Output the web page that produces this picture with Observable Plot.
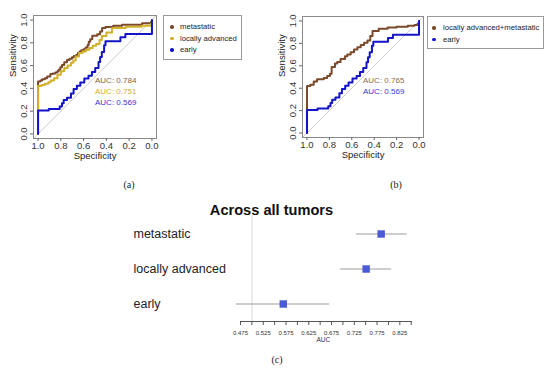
<!DOCTYPE html>
<html><head><meta charset="utf-8">
<script src="https://cdn.jsdelivr.net/npm/d3@7"></script>
<script src="https://cdn.jsdelivr.net/npm/@observablehq/plot@0.6"></script>
<style>
body{margin:0;background:#fff;}
#root{position:relative;width:550px;height:370px;overflow:hidden;font-family:"Liberation Sans",Arial,sans-serif;background:#fff;}
#root svg{position:absolute;background:none;}
.legend{position:absolute;border:1px solid #9a9a9a;box-sizing:border-box;font-size:7.7px;color:#222;}
.legend .item{position:absolute;white-space:nowrap;line-height:10px;height:10px;}
.legend .dot{position:absolute;width:3.4px;height:3.4px;border-radius:50%;}
.plab{position:absolute;font-family:"Liberation Serif",serif;font-size:10px;color:#222;width:30px;text-align:center;line-height:12px;}
.title{position:absolute;font-weight:bold;font-size:14.6px;color:#111;width:220px;text-align:center;line-height:18px;}
</style></head><body><div id="root"></div>
<script>
// ---------- data ----------
const rocTicks = [0, 0.2, 0.4, 0.6, 0.8, 1.0];

// Panel (a)
const namesA = ["metastatic", "locally advanced", "early"];
const aucA = [0.784, 0.751, 0.569];
const metSpec = [1,1,.98,.964,.94,.92,.892,.87,.848,.83,.819,.805,.79,.77,.746,.725,.702,.685,.665,.65,.635,.62,.60,.582,.565,.555,.542,.524,.48,.455,.437,.408,.34,.262,.087,.01,0];
const metSens = [0,.46,.47,.48,.49,.505,.527,.53,.539,.55,.563,.585,.606,.63,.65,.66,.673,.685,.694,.71,.723,.735,.744,.76,.782,.81,.831,.863,.875,.90,.93,.94,.95,.959,.971,.98,1];
const locSpec = [1,1,.97,.94,.91,.89,.86,.83,.80,.77,.74,.71,.69,.67,.64,.61,.58,.55,.52,.49,.46,.44,.40,.35,.23,.09,.01,0];
const locSens = [0,.42,.43,.44,.455,.47,.49,.52,.55,.58,.60,.625,.645,.68,.71,.725,.74,.755,.775,.79,.825,.86,.89,.93,.942,.95,.965,1];
const earlySpec = [1,1,.906,.81,.79,.775,.746,.711,.688,.659,.629,.594,.557,.527,.498,.469,.455,.44,.42,.408,.277,.233,0];
const earlySens = [0,.205,.219,.24,.269,.298,.318,.356,.394,.423,.452,.487,.51,.545,.58,.632,.676,.72,.778,.814,.849,.878,1];

// Panel (b)
const namesB = ["locally advanced+metastatic", "early"];
const aucB = [0.765, 0.569];
const combSpec = [1,1,.97,.94,.91,.85,.82,.795,.78,.75,.73,.70,.66,.64,.61,.58,.55,.52,.49,.46,.435,.415,.36,.28,.20,.10,.04,.01,0];
const combSens = [0,.42,.43,.46,.48,.49,.51,.53,.59,.62,.635,.66,.685,.70,.72,.745,.765,.785,.805,.825,.865,.91,.93,.942,.948,.957,.965,.975,1];

// Panel (c)
const forestCats = ["metastatic", "locally advanced", "early"];
const forestAuc = [0.784, 0.751, 0.569];
const forestLo = [0.730, 0.695, 0.466];
const forestHi = [0.841, 0.807, 0.671];
const forestAllTicks = [0.475,0.5,0.525,0.55,0.575,0.6,0.625,0.65,0.675,0.7,0.725,0.75,0.775,0.8,0.825,0.85];
const forestLabelTicks = [0.475,0.525,0.575,0.625,0.675,0.725,0.775,0.825];

// ---------- drawing ----------
const root = document.getElementById("root");
const BROWN = "#7b4a2a", GOLD = "#d3b02a", BLUE = "#1414c8";

function rocPlot(curves, size, top) {
  const xd = [1.04, -0.04], yd = [-0.04, 1.04];
  const W = 160, H = 166;
  return Plot.plot({
    width: W, height: H,
    marginLeft: 33, marginRight: W - 33 - size, marginTop: top, marginBottom: H - top - size,
    style: {fontFamily: "Liberation Sans, Arial, sans-serif", fontSize: "9.5px", color: "#222", background: "none"},
    x: {domain: xd, label: null},
    y: {domain: yd, label: null},
    marks: [
      Plot.link([0], {x1: xd[0], y1: yd[0], x2: xd[1], y2: yd[1], stroke: "#cfcfcf", strokeWidth: 1}),
      ...curves.map(c => Plot.line(c.spec.map((s, i) => ({spec: s, sens: c.sens[i]})),
        {x: "spec", y: "sens", stroke: c.color, strokeWidth: 2, curve: "step-after"})),
      ...curves.map((c, i) => Plot.text([c.auc], {x: 0.5, y: 0.5 - 0.1 * i,
        text: d => "AUC: " + d3.format(".3f")(d), fill: c.textColor,
        textAnchor: "start", lineAnchor: "top", fontSize: 8})),
      Plot.frame({stroke: "#8a8a8a"}),
      Plot.axisX({ticks: rocTicks, tickSize: 3, tickPadding: 0.5, tickFormat: ".1f", label: null, stroke: "#666", fill: "#333"}),
      Plot.axisY({ticks: rocTicks, tickSize: 3, tickPadding: 4, tickRotate: -90, tickFormat: ".1f", label: null, stroke: "#666", fill: "#333"}),
      Plot.text(["Specificity"], {frameAnchor: "bottom", dy: 20, text: d => d, fill: "#222"}),
      Plot.text(["Sensitivity"], {frameAnchor: "left", dx: -21, rotate: -90, text: d => d, fill: "#222"})
    ]
  });
}

const svgA = rocPlot([
  {spec: metSpec, sens: metSens, color: BROWN, textColor: "#86603f", auc: aucA[0]},
  {spec: locSpec, sens: locSens, color: GOLD, textColor: "#d2ac30", auc: aucA[1]},
  {spec: earlySpec, sens: earlySens, color: BLUE, textColor: "#3535d0", auc: aucA[2]}
], 123, 15);
svgA.style.left = "0px"; svgA.style.top = "0px";
root.appendChild(svgA);

const svgB = rocPlot([
  {spec: combSpec, sens: combSens, color: BROWN, textColor: "#8e6a50", auc: aucB[0]},
  {spec: earlySpec, sens: earlySens, color: BLUE, textColor: "#3a3ad2", auc: aucB[1]}
], 121, 16);
svgB.style.left = "269px"; svgB.style.top = "0px";
root.appendChild(svgB);

// Legends (HTML)
function legend(names, colors, left, top, w, h, dotX, textX) {
  const div = document.createElement("div");
  div.className = "legend";
  Object.assign(div.style, {left: left + "px", top: top + "px", width: w + "px", height: h + "px"});
  names.forEach((n, i) => {
    const cy = 11 + i * 11.5;
    const dot = document.createElement("div");
    dot.className = "dot";
    Object.assign(dot.style, {left: (dotX - 1.7) + "px", top: (cy - 1.7) + "px", background: colors[i]});
    const t = document.createElement("div");
    t.className = "item";
    Object.assign(t.style, {left: textX + "px", top: (cy - 5) + "px"});
    t.textContent = n;
    div.appendChild(dot); div.appendChild(t);
  });
  root.appendChild(div);
}
legend(namesA, [BROWN, GOLD, BLUE], 163, 15, 79, 45, 8, 16);
legend(namesB, [BROWN, BLUE], 427, 16, 117, 33, 6, 15);

// Panel (c)
const forest = forestCats.map((c, i) => ({cat: c, auc: forestAuc[i], lo: forestLo[i], hi: forestHi[i]}));
const svgC = Plot.plot({
  width: 300, height: 145,
  marginLeft: 120, marginRight: 9.3, marginTop: 10.4, marginBottom: 29,
  style: {fontFamily: "Liberation Sans, Arial, sans-serif", fontSize: "6px", color: "#333", background: "none"},
  x: {domain: [0.475, 0.85], label: null},
  y: {domain: forestCats, type: "band", padding: 0, label: null, axis: null},
  marks: [
    Plot.ruleX([0.5], {stroke: "#dcdcdc", strokeWidth: 1}),
    Plot.ruleY(forest, {y: "cat", x1: "lo", x2: "hi", stroke: "#9c9c9c", strokeWidth: 1.2}),
    Plot.dot(forest, {x: "auc", y: "cat", symbol: "square", r: 4.2, fill: "#4b5bd6"}),
    Plot.frame({anchor: "bottom", stroke: "#555"}),
    Plot.axisX({ticks: forestAllTicks, tickSize: 4, tickFormat: () => "", label: null, stroke: "#555"}),
    Plot.axisX({ticks: forestLabelTicks, tickSize: 0, tickPadding: 9.5, tickFormat: ".3f", label: null, fill: "#333", fontSize: 6}),
    Plot.text(["AUC"], {frameAnchor: "bottom", dy: 20.7, dx: -2.5, text: d => d, fontSize: 6.5, fill: "#333"}),
    Plot.text(forestCats, {y: d => d, frameAnchor: "left", textAnchor: "start", dx: -107, text: d => d, fontSize: 12.5, fill: "#222"})
  ]
});
svgC.style.left = "120px"; svgC.style.top = "205px";
root.appendChild(svgC);

// Title and panel labels
function addDiv(cls, text, left, top) {
  const d = document.createElement("div");
  d.className = cls; d.textContent = text;
  d.style.left = left + "px"; d.style.top = top + "px";
  root.appendChild(d);
}
addDiv("title", "Across all tumors", 271.5 - 110, 201);
addDiv("plab", "(a)", 129 - 15, 179);
addDiv("plab", "(b)", 396 - 15, 179);
addDiv("plab", "(c)", 277 - 15, 354);
</script>
</body></html>
